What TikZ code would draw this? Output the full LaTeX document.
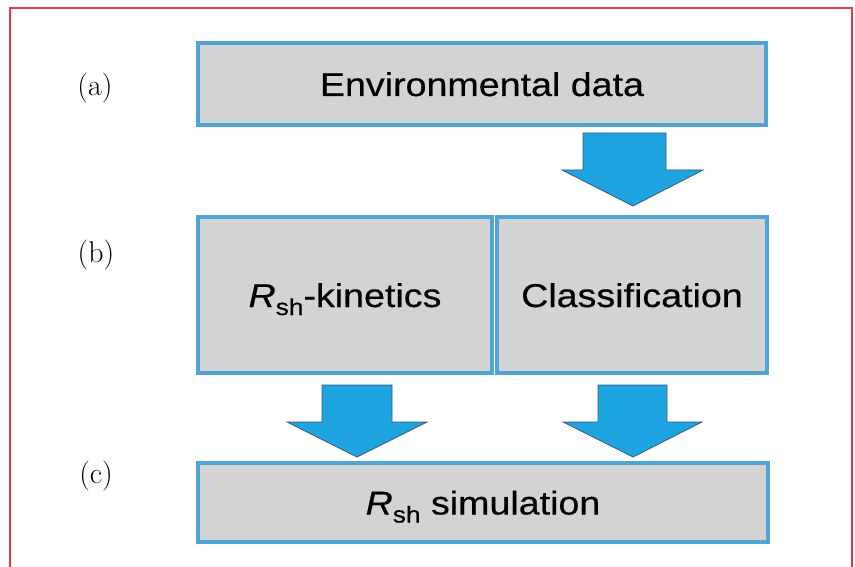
\documentclass[tikz,border=0pt]{standalone}
\usepackage{fontspec}
\newfontfamily\boxfont[FakeStretch=1.14,FakeBold=0.4]{Liberation Sans}
\definecolor{boxfill}{RGB}{211,211,211}
\definecolor{boxline}{RGB}{80,165,215}
\definecolor{arrowfill}{RGB}{30,165,225}
\definecolor{arrowline}{RGB}{60,90,120}
\definecolor{frame}{RGB}{232,56,61}
\newcommand{\Rsh}{{\itshape R}\raisebox{-8pt}{\fontsize{23}{23}\selectfont sh}}
\begin{document}
\begin{tikzpicture}[x=1pt,y=-1pt,
  stagebox/.style={draw=boxline, line width=3.2pt, fill=boxfill, inner sep=0pt,
    text height=24pt, font=\boxfont\fontsize{33}{36}\selectfont},
  blockarrow/.style={draw=arrowline, line width=0.8pt, fill=arrowfill, line join=miter},
  steplabel/.style={font=\fontsize{30}{32}\selectfont}]
\useasboundingbox (0,0) rectangle (855,567);
\fill[white] (0,0) rectangle (855,567);
% frame
\draw[frame, line width=1.5pt] (10,570) -- (10,8) -- (852,8) -- (852,570);
% labels
\node[steplabel] (la) at (95,88) {(a)};
\node[steplabel] (lb) at (96,255) {(b)};
\node[steplabel] (lc) at (96,476) {(c)};
% boxes
\node[stagebox, text depth=-2pt, minimum width=568pt, minimum height=82pt] (env) at (482,84) {Environmental data};
\node[stagebox, text depth=-4pt, minimum width=294pt, minimum height=156pt] (kin) at (345,295) {\Rsh-kinetics};
\node[stagebox, text depth=-4pt, minimum width=270pt, minimum height=156pt] (cls) at (632,295) {Classification};
\node[stagebox, text depth=-9pt, minimum width=570pt, minimum height=79pt] (sim) at (483,502.5) {\Rsh{} simulation};
% block arrows
\coordinate (a1) at (633,206);
\coordinate (a2) at (357,457);
\coordinate (a3) at (633,457);
\draw[blockarrow] (a1) -- ++(70,-36) -- ++(-37,0) -- ++(0,-37) -- ++(-83,0) -- ++(0,37) -- ++(-21,0) -- cycle;
\draw[blockarrow] (a2) -- ++(70,-35) -- ++(-35,0) -- ++(0,-37) -- ++(-70,0) -- ++(0,37) -- ++(-35,0) -- cycle;
\draw[blockarrow] (a3) -- ++(69,-35) -- ++(-35,0) -- ++(0,-37) -- ++(-69,0) -- ++(0,37) -- ++(-35,0) -- cycle;
\end{tikzpicture}
\end{document}
